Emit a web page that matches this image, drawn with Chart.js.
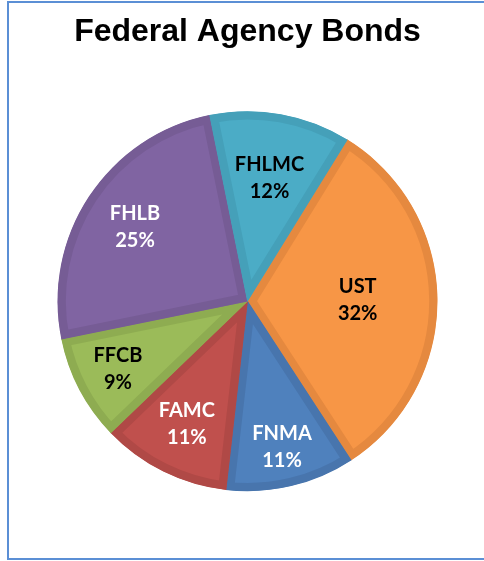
<!DOCTYPE html>
<html>
<head>
<meta charset="utf-8">
<script src="https://cdn.jsdelivr.net/npm/chart.js@4"></script>
<style>
html,body{margin:0;padding:0;width:484px;height:561px;overflow:hidden;background:#fff;}
#frame{position:absolute;left:7px;top:1px;width:520px;height:559px;border:2px solid #5b8fd5;box-sizing:border-box;}
#wrap{position:absolute;left:0;top:0;width:484px;height:561px;}
</style>
</head>
<body>
<div id="frame"></div>
<div id="wrap"><canvas id="c" width="484" height="561"></canvas></div>
<script>
const categories = ["UST", "FNMA", "FAMC", "FFCB", "FHLB", "FHLMC"];
const shares = [32, 11, 11, 9, 25, 12];
const titleText = "Federal Agency Bonds";

const fillColors = ["#F79646", "#4F81BD", "#C0504D", "#9BBB59", "#8064A2", "#4BACC6"];
const edgeColors = ["#E5893F", "#4875AD", "#B04946", "#8EAC51", "#765C95", "#45A0B9"];
const labelColors = ["#000000", "#ffffff", "#ffffff", "#000000", "#ffffff", "#000000"];
const labelRadius = [0.58, 0.79, 0.72, 0.77, 0.71, 0.66];

const sliceLabels = {
  id: 'sliceLabels',
  afterDatasetsDraw(chart) {
    const ctx = chart.ctx;
    const meta = chart.getDatasetMeta(0);
    ctx.save();
    ctx.font = 'bold 20px Lato, "Open Sans", sans-serif';
    ctx.textAlign = 'center';
    ctx.textBaseline = 'middle';
    meta.data.forEach((arc, i) => {
      const p = arc.getProps(['x','y','startAngle','endAngle','outerRadius'], true);
      const mid = (p.startAngle + p.endAngle) / 2;
      const r = p.outerRadius * labelRadius[i];
      const x = p.x + Math.cos(mid) * r;
      const y = p.y + Math.sin(mid) * r;
      ctx.fillStyle = labelColors[i];
      ctx.fillText(categories[i], x, y - 13.5);
      ctx.fillText(shares[i] + '%', x, y + 13.5);
    });
    ctx.restore();
  }
};

new Chart(document.getElementById('c'), {
  type: 'pie',
  data: {
    labels: categories,
    datasets: [{
      data: shares,
      backgroundColor: fillColors,
      borderColor: edgeColors,
      borderWidth: 8,
      borderAlign: 'inner',
      radius: 190
    }]
  },
  options: {
    responsive: false,
    animation: false,
    rotation: 31.7,
    layout: { padding: { left: 11, right: 0, top: 0, bottom: 24 } },
    plugins: {
      legend: { display: false },
      tooltip: { enabled: false },
      title: {
        display: true,
        text: titleText,
        color: '#000',
        font: { family: '"Liberation Sans", Arial, sans-serif', size: 32, weight: 'bold', lineHeight: 1.2 },
        padding: { top: 13, bottom: 14 }
      }
    }
  },
  plugins: [sliceLabels]
});
</script>
</body>
</html>
